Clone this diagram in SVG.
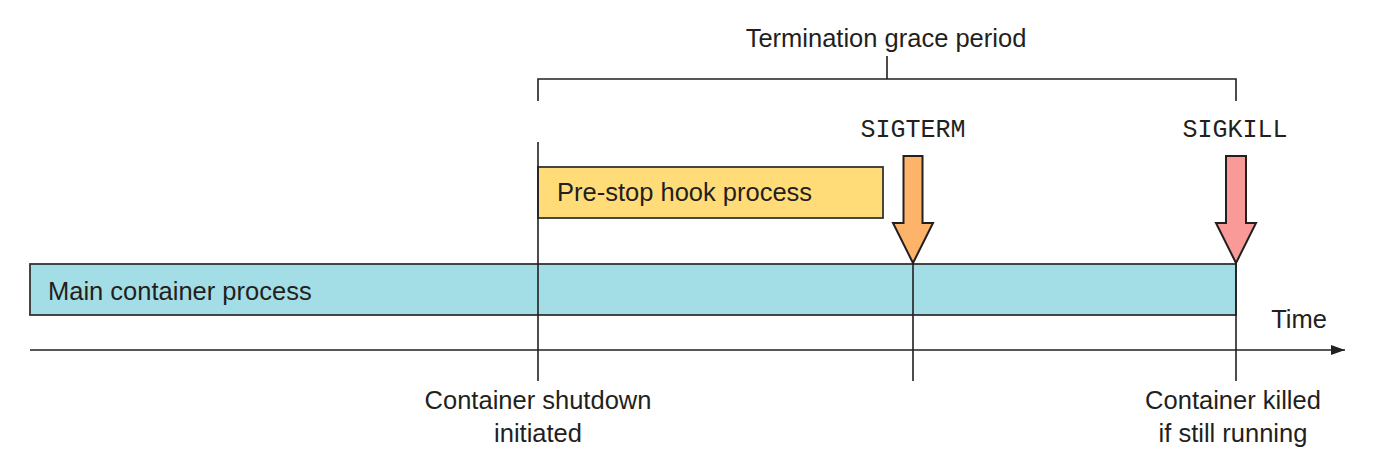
<svg xmlns="http://www.w3.org/2000/svg" width="1376" height="474" viewBox="0 0 1376 474">
<style>
.t{font-family:"Liberation Sans",Arial,sans-serif;font-size:25.5px;fill:#231f20}
.m{font-family:"Liberation Mono","Courier New",monospace;font-size:25px;fill:#231f20}
.ln{stroke:#231f20;stroke-width:1.6;fill:none}
.box{stroke:#333;stroke-width:1.8}
.arr{stroke:#231f20;stroke-width:2;stroke-linejoin:miter}
</style>
<defs>
<marker id="ah" markerWidth="14" markerHeight="10" refX="14" refY="5" orient="auto" markerUnits="userSpaceOnUse">
<path d="M0,0 L14,5 L0,10 Z" fill="#231f20"/>
</marker>
</defs>
<rect width="1376" height="474" fill="#fff"/>
<g id="main-process">
<rect class="box" x="30" y="264" width="1206" height="51" fill="#a3dde5"/>
<text class="t" x="48" y="300">Main container process</text>
</g>
<g id="prestop-hook">
<rect class="box" x="538" y="167" width="345" height="51" fill="#ffdc78"/>
<text class="t" x="557" y="201">Pre-stop hook process</text>
</g>
<g id="grace-period">
<path class="ln" d="M538,101 V79 H1236 V101 M887,79 V56"/>
<text class="t" x="886" y="47" text-anchor="middle">Termination grace period</text>
</g>
<g id="sigterm">
<text class="m" x="913" y="137" text-anchor="middle">SIGTERM</text>
<path class="arr" fill="#fdb46a" d="M903.5,156 H922.5 V223 H933 L913,263 L893,223 H903.5 Z"/>
</g>
<g id="sigkill">
<text class="m" x="1235" y="137" text-anchor="middle">SIGKILL</text>
<path class="arr" fill="#f99a98" d="M1226,156 H1246 V223 H1256 L1236,263 L1216,223 H1226 Z"/>
</g>
<g id="shutdown-label">
<text class="t" x="538" y="409" text-anchor="middle">Container shutdown</text>
<text class="t" x="538" y="442" text-anchor="middle">initiated</text>
</g>
<g id="killed-label">
<text class="t" x="1233" y="409" text-anchor="middle">Container killed</text>
<text class="t" x="1233" y="442" text-anchor="middle">if still running</text>
</g>
<g id="time-label">
<text class="t" x="1299" y="328" text-anchor="middle">Time</text>
</g>
<g id="connectors">
<line class="ln" x1="30" y1="350" x2="1345" y2="350" marker-end="url(#ah)"/>
<line class="ln" x1="538" y1="142" x2="538" y2="381"/>
<line class="ln" x1="913" y1="263" x2="913" y2="381"/>
<line class="ln" x1="1236" y1="263" x2="1236" y2="381"/>
</g>
</svg>
